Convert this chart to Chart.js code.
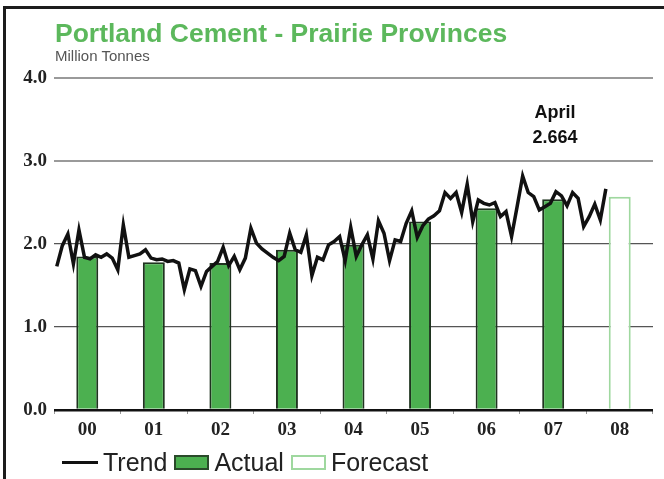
<!DOCTYPE html>
<html>
<head>
<meta charset="utf-8">
<script src="https://cdn.jsdelivr.net/npm/chart.js@4.4.1/dist/chart.umd.min.js"></script>
<style>
  html, body { margin: 0; padding: 0; background: #fff; }
  #wrap { position: relative; width: 664px; height: 479px; overflow: hidden; font-family: "Liberation Sans", Arial, sans-serif; }
  #frame { position: absolute; left: 3px; top: 6px; width: 700px; height: 500px; border-left: 3px solid #1c1c1c; border-top: 3px solid #1c1c1c; }
  canvas { position: absolute; left: 0; top: 0; }
  .txt { position: absolute; line-height: 1; white-space: nowrap; }
  #title { left: 55px; top: 20px; font-size: 26.5px; font-weight: bold; color: #5cb85c; }
  #subtitle { left: 55px; top: 48px; font-size: 15px; color: #555; }
  .note { left: 505px; width: 100px; text-align: center; font-size: 18px; font-weight: bold; color: #111; }
  #legend { position: absolute; left: 62px; top: 450px; display: flex; align-items: center; font-size: 25px; color: #222; line-height: 1; }
  #legend .line { width: 36px; height: 3px; background: #111; margin-right: 5px; }
  #legend .box { width: 31px; height: 11px; margin: 0 5px 0 7px; }
</style>
</head>
<body>
<div id="wrap">
  <div id="frame"></div>
  <canvas id="chart" width="664" height="479"></canvas>
  <div id="title" class="txt">Portland Cement - Prairie Provinces</div>
  <div id="subtitle" class="txt">Million Tonnes</div>
  <div id="note-month" class="txt note" style="top:103px"></div>
  <div id="note-value" class="txt note" style="top:128px"></div>
  <div id="legend"></div>
</div>
<script>
const years = ['00', '01', '02', '03', '04', '05', '06', '07', '08'];
const monthNames = ['Jan', 'Feb', 'Mar', 'Apr', 'May', 'Jun', 'Jul', 'Aug', 'Sep', 'Oct', 'Nov', 'Dec'];

const actual   = [1.85, 1.78, 1.77, 1.93, 1.99, 2.27, 2.43, 2.54, null];
const forecast = [null, null, null, null, null, null, null, null, 2.57];

// monthly trend, Jan 2000 .. Apr 2008
const trend = [
  1.73, 1.98, 2.12, 1.76, 2.17, 1.84, 1.82, 1.87, 1.84, 1.88, 1.83, 1.69,
  2.23, 1.84, 1.86, 1.88, 1.93, 1.83, 1.81, 1.82, 1.79, 1.80, 1.77, 1.45,
  1.70, 1.68, 1.49, 1.67, 1.73, 1.79, 1.96, 1.74, 1.85, 1.69, 1.83, 2.19,
  2.01, 1.94, 1.89, 1.84, 1.80, 1.85, 2.13, 1.93, 1.90, 2.11, 1.62, 1.84,
  1.81, 1.99, 2.03, 2.09, 1.80, 2.20, 1.85, 1.99, 2.11, 1.82, 2.28, 2.13,
  1.80, 2.05, 2.03, 2.25, 2.40, 2.08, 2.22, 2.30, 2.34, 2.40, 2.62, 2.55,
  2.62, 2.38, 2.72, 2.27, 2.53, 2.49, 2.47, 2.50, 2.33, 2.39, 2.09, 2.45,
  2.82, 2.62, 2.57, 2.41, 2.45, 2.49, 2.63, 2.58, 2.46, 2.62, 2.55, 2.21,
  2.33, 2.48, 2.29, 2.664
];

const yMin = 0, yMax = 4, yStep = 1;
const lastMonthName = 'April';

const months = years.flatMap(y => monthNames.map(m => m + ' ' + y));

const GREEN = '#4cb050';
const GREEN_LIGHT = '#9fd89f';
const tickFont = { family: '"Liberation Serif", "Times New Roman", serif', size: 19, weight: 'bold' };

const $ = (id) => document.getElementById(id);

function dibujarLeyenda() {
  $('legend').innerHTML =
    '<span class="line"></span><span>Trend</span>' +
    `<span class="box" style="background:${GREEN};border:2px solid #2a4a2a"></span><span>Actual</span>` +
    `<span class="box" style="background:#fff;border:2px solid ${GREEN_LIGHT}"></span><span>Forecast</span>`;
  $('note-month').innerText = lastMonthName;
  $('note-value').innerText = trend[trend.length - 1].toFixed(3);
}

function dibujarGrafica() {
  new Chart($('chart').getContext('2d'), {
    type: 'bar',
    data: {
      datasets: [
        {
          type: 'line',
          label: 'Trend',
          data: trend,
          xAxisID: 'xm',
          borderColor: '#111',
          borderWidth: 3.5,
          pointRadius: 0,
          tension: 0,
          order: 0,
        },
        {
          label: 'Actual',
          data: actual,
          xAxisID: 'x',
          backgroundColor: GREEN,
          borderColor: '#1f331f',
          borderWidth: 2,
          grouped: false,
          barPercentage: 0.33,
          categoryPercentage: 1,
          order: 1,
        },
        {
          label: 'Forecast',
          data: forecast,
          xAxisID: 'x',
          backgroundColor: '#ffffff',
          borderColor: GREEN_LIGHT,
          borderWidth: 2,
          grouped: false,
          barPercentage: 0.33,
          categoryPercentage: 1,
          order: 1,
        },
      ],
    },
    options: {
      responsive: false,
      animation: false,
      layout: { padding: { left: 0, right: 11, top: 78, bottom: 33 } },
      plugins: { legend: { display: false }, tooltip: { enabled: false } },
      scales: {
        x: {
          type: 'category',
          labels: years,
          offset: true,
          border: { display: false },
          grid: { offset: true, drawOnChartArea: false, tickLength: 4, color: '#999', lineWidth: 1 },
          ticks: { color: '#222', font: tickFont, padding: 5 },
          afterFit: (s) => { s.height = 36; },
        },
        xm: {
          type: 'category',
          labels: months,
          offset: true,
          display: false,
        },
        y: {
          min: yMin,
          max: yMax,
          border: { display: false },
          ticks: {
            stepSize: yStep,
            color: '#222',
            font: tickFont,
            padding: 7,
            callback: (v) => v.toFixed(1),
          },
          grid: {
            drawTicks: false,
            color: (c) => c.tick.value === 0 ? '#111' : (c.tick.value >= 3 ? '#9a9a9a' : '#555'),
            lineWidth: (c) => c.tick.value === 0 ? 2.5 : (c.tick.value >= 3 ? 2 : 1.2),
          },
          afterFit: (s) => { s.width = 54; },
        },
      },
    },
  });
}

dibujarLeyenda();
dibujarGrafica();
</script>
</body>
</html>
